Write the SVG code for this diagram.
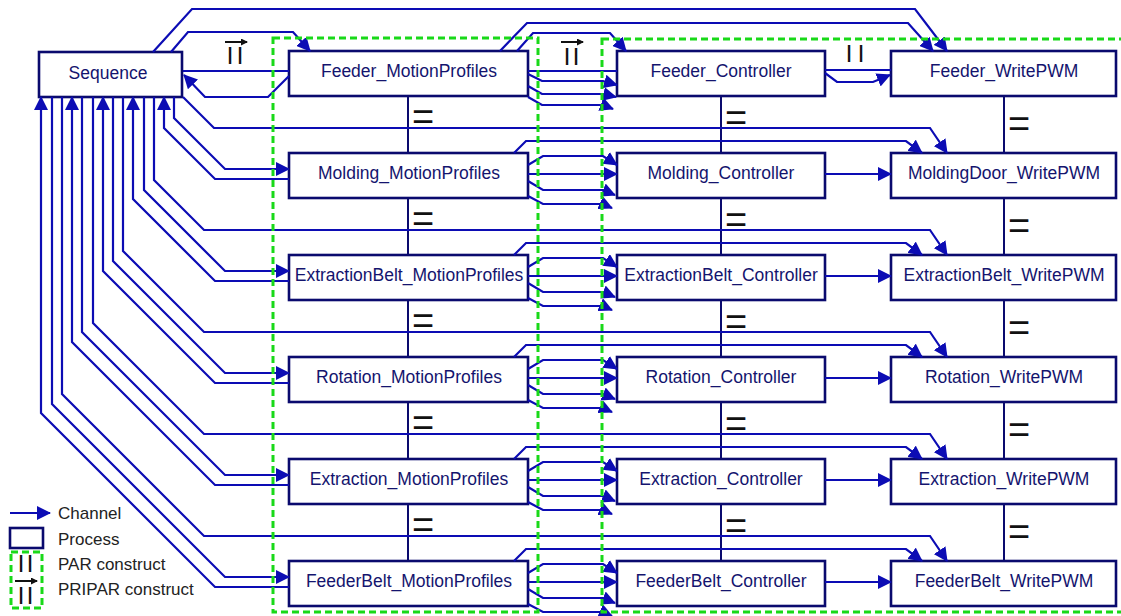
<svg xmlns="http://www.w3.org/2000/svg" width="1121" height="616" viewBox="0 0 1121 616">
<style>
.node rect{fill:#fff;stroke:#0a0a6e;stroke-width:2.6}
.node text{font-family:"Liberation Sans",Arial,sans-serif;font-size:17.5px;fill:#14146e;text-anchor:middle}
.ch{fill:none;stroke:#0c0cb4;stroke-width:2.2;marker-end:url(#ah)}
.ln{fill:none;stroke:#0c0cb4;stroke-width:2.2}
.seq{stroke:#0a0a6e;stroke-width:2}
.eq{font-family:"Liberation Sans",Arial,sans-serif;font-size:38px;fill:#111;text-anchor:middle}
.bar{font-family:"Liberation Sans",Arial,sans-serif;font-size:18px;font-weight:bold;fill:#111;text-anchor:middle}
.par{fill:none;stroke:#19d919;stroke-width:3;stroke-dasharray:7 4}
.leg{font-family:"Liberation Sans",Arial,sans-serif;font-size:17px;fill:#222}
.pa{stroke:#111;stroke-width:2;marker-end:url(#sa)}
</style>
<defs>
<marker id="ah" markerUnits="userSpaceOnUse" markerWidth="14" markerHeight="14" viewBox="0 0 14 14" refX="13" refY="7" orient="auto"><path d="M0,0 L14,7 L0,14 z" fill="#0c0cb4"/></marker>
<marker id="sa" markerUnits="userSpaceOnUse" markerWidth="7" markerHeight="7" viewBox="0 0 7 7" refX="6" refY="3.5" orient="auto"><path d="M0,0 L7,3.5 L0,7 z" fill="#111"/></marker>
</defs>

<g id="nodes">
<g id="Sequence" class="node"><rect x="39" y="52" width="143" height="45"/><text x="108" y="79">Sequence</text></g>

<g id="Feeder_MotionProfiles" class="node"><rect x="289" y="51" width="239" height="45"/><text x="409" y="77">Feeder_MotionProfiles</text></g>
<g id="Molding_MotionProfiles" class="node"><rect x="289" y="153" width="239" height="45"/><text x="409" y="179">Molding_MotionProfiles</text></g>
<g id="ExtractionBelt_MotionProfiles" class="node"><rect x="289" y="255" width="239" height="45"/><text x="409" y="281">ExtractionBelt_MotionProfiles</text></g>
<g id="Rotation_MotionProfiles" class="node"><rect x="289" y="357" width="239" height="45"/><text x="409" y="383">Rotation_MotionProfiles</text></g>
<g id="Extraction_MotionProfiles" class="node"><rect x="289" y="459" width="239" height="45"/><text x="409" y="485">Extraction_MotionProfiles</text></g>
<g id="FeederBelt_MotionProfiles" class="node"><rect x="289" y="561" width="239" height="45"/><text x="409" y="587">FeederBelt_MotionProfiles</text></g>

<g id="Feeder_Controller" class="node"><rect x="617" y="51" width="208" height="45"/><text x="721" y="77">Feeder_Controller</text></g>
<g id="Molding_Controller" class="node"><rect x="617" y="153" width="208" height="45"/><text x="721" y="179">Molding_Controller</text></g>
<g id="ExtractionBelt_Controller" class="node"><rect x="617" y="255" width="208" height="45"/><text x="721" y="281">ExtractionBelt_Controller</text></g>
<g id="Rotation_Controller" class="node"><rect x="617" y="357" width="208" height="45"/><text x="721" y="383">Rotation_Controller</text></g>
<g id="Extraction_Controller" class="node"><rect x="617" y="459" width="208" height="45"/><text x="721" y="485">Extraction_Controller</text></g>
<g id="FeederBelt_Controller" class="node"><rect x="617" y="561" width="208" height="45"/><text x="721" y="587">FeederBelt_Controller</text></g>

<g id="Feeder_WritePWM" class="node"><rect x="891" y="51" width="225" height="45"/><text x="1004" y="77">Feeder_WritePWM</text></g>
<g id="MoldingDoor_WritePWM" class="node"><rect x="891" y="153" width="225" height="45"/><text x="1004" y="179">MoldingDoor_WritePWM</text></g>
<g id="ExtractionBelt_WritePWM" class="node"><rect x="891" y="255" width="225" height="45"/><text x="1004" y="281">ExtractionBelt_WritePWM</text></g>
<g id="Rotation_WritePWM" class="node"><rect x="891" y="357" width="225" height="45"/><text x="1004" y="383">Rotation_WritePWM</text></g>
<g id="Extraction_WritePWM" class="node"><rect x="891" y="459" width="225" height="45"/><text x="1004" y="485">Extraction_WritePWM</text></g>
<g id="FeederBelt_WritePWM" class="node"><rect x="891" y="561" width="225" height="45"/><text x="1004" y="587">FeederBelt_WritePWM</text></g>
</g>

<g id="connectors">
<g class="seq">
<line x1="408" y1="97" x2="408" y2="152"/><line x1="408" y1="199" x2="408" y2="254"/><line x1="408" y1="301" x2="408" y2="356"/><line x1="408" y1="403" x2="408" y2="458"/><line x1="408" y1="505" x2="408" y2="560"/>
<line x1="721" y1="97" x2="721" y2="152"/><line x1="721" y1="199" x2="721" y2="254"/><line x1="721" y1="301" x2="721" y2="356"/><line x1="721" y1="403" x2="721" y2="458"/><line x1="721" y1="505" x2="721" y2="560"/>
<line x1="1004" y1="97" x2="1004" y2="152"/><line x1="1004" y1="199" x2="1004" y2="254"/><line x1="1004" y1="301" x2="1004" y2="356"/><line x1="1004" y1="403" x2="1004" y2="458"/><line x1="1004" y1="505" x2="1004" y2="560"/>
</g>
<g id="eq-labels">
<text class="eq" x="423" y="130">=</text><text class="eq" x="423" y="232">=</text><text class="eq" x="423" y="334">=</text><text class="eq" x="423" y="436">=</text><text class="eq" x="423" y="538">=</text>
<text class="eq" x="736" y="131">=</text><text class="eq" x="736" y="233">=</text><text class="eq" x="736" y="335">=</text><text class="eq" x="736" y="437">=</text><text class="eq" x="736" y="539">=</text>
<text class="eq" x="1019" y="137">=</text><text class="eq" x="1019" y="239">=</text><text class="eq" x="1019" y="341">=</text><text class="eq" x="1019" y="443">=</text><text class="eq" x="1019" y="545">=</text>
</g>

<path class="ch" d="M153,52 L192,9 L915,9 L947,51"/>
<path class="ch" d="M171,52 L188,32 L293,32 L310,51"/>
<path class="ln" d="M183,71 L289,71"/>
<path class="ch" d="M289,76 L268,97 L205,97 L184,75"/>
<path class="ch" d="M500,51 L527,23 L908,23 L933,51"/>
<path class="ch" d="M517,51 L533,33 L610,33 L626,51"/>
<path class="ln" d="M528,71 L617,71"/>
<path class="ch" d="M528,74 L542,81 L603,81 L617,85"/>
<path class="ch" d="M528,86 L542,94 L603,94 L616,97"/>
<path class="ch" d="M528,97 L542,105 L603,105 L613,109"/>
<path class="ln" d="M825,70 L891,70"/>
<path class="ch" d="M825,73 L837,82 L873,82 L890,75"/>

<path class="ch" d="M183,97 L214,128 L930,128 L947,153"/>
<path class="ch" d="M174,97 L174,118 L225,169 L289,169"/>
<path class="ch" d="M289,179 L215,179 L164,128 L164,97"/>
<path class="ch" d="M514,153 L526,141 L906,141 L922,153"/>
<path class="ch" d="M528,165 L543,156 L603,156 L617,165"/>
<path class="ch" d="M528,174 L617,174"/>
<path class="ch" d="M528,181 L543,190 L603,190 L615,195"/>
<path class="ch" d="M528,196 L543,204 L603,204 L612,208"/>
<path class="ch" d="M825,174 L891,174"/>

<path class="ch" d="M154,97 L154,180 L204,230 L930,230 L947,255"/>
<path class="ch" d="M144,97 L144,190 L225,271 L289,271"/>
<path class="ch" d="M289,281 L215,281 L133,199 L133,97"/>
<path class="ch" d="M514,255 L526,243 L906,243 L922,255"/>
<path class="ch" d="M528,267 L543,258 L603,258 L617,267"/>
<path class="ch" d="M528,276 L617,276"/>
<path class="ch" d="M528,283 L543,292 L603,292 L615,297"/>
<path class="ch" d="M528,298 L543,306 L603,306 L612,310"/>
<path class="ch" d="M825,276 L891,276"/>

<path class="ch" d="M123,97 L123,251 L204,332 L930,332 L947,357"/>
<path class="ch" d="M113,97 L113,261 L225,373 L289,373"/>
<path class="ch" d="M289,383 L215,383 L103,271 L103,97"/>
<path class="ch" d="M514,357 L526,345 L906,345 L922,357"/>
<path class="ch" d="M528,369 L543,360 L603,360 L617,369"/>
<path class="ch" d="M528,378 L617,378"/>
<path class="ch" d="M528,385 L543,394 L603,394 L615,399"/>
<path class="ch" d="M528,400 L543,408 L603,408 L612,412"/>
<path class="ch" d="M825,378 L891,378"/>

<path class="ch" d="M93,97 L93,323 L204,434 L930,434 L947,459"/>
<path class="ch" d="M82,97 L82,332 L225,475 L289,475"/>
<path class="ch" d="M289,485 L215,485 L72,342 L72,97"/>
<path class="ch" d="M514,459 L526,447 L906,447 L922,459"/>
<path class="ch" d="M528,471 L543,462 L603,462 L617,471"/>
<path class="ch" d="M528,480 L617,480"/>
<path class="ch" d="M528,487 L543,496 L603,496 L615,501"/>
<path class="ch" d="M528,502 L543,510 L603,510 L612,514"/>
<path class="ch" d="M825,480 L891,480"/>

<path class="ch" d="M62,97 L62,394 L204,536 L930,536 L947,561"/>
<path class="ch" d="M52,97 L52,404 L225,577 L289,577"/>
<path class="ch" d="M289,587 L215,587 L41,413 L41,97"/>
<path class="ch" d="M514,561 L526,549 L906,549 L922,561"/>
<path class="ch" d="M528,573 L543,564 L603,564 L617,573"/>
<path class="ch" d="M528,582 L617,582"/>
<path class="ch" d="M528,589 L543,598 L603,598 L615,603"/>
<path class="ch" d="M528,604 L543,612 L603,612 L612,616"/>
<path class="ch" d="M825,582 L891,582"/>
</g>

<g id="constructs">
<rect class="par" x="273" y="38" width="265" height="574"/>
<rect class="par" x="602" y="39" width="530" height="573"/>
<g id="pripar1"><line class="pa" x1="225" y1="42" x2="247" y2="42"/><text class="bar" x="230 240" y="60">||</text></g>
<g id="pripar2"><line class="pa" x1="561" y1="42" x2="583" y2="42"/><text class="bar" x="567 576" y="61">||</text></g>
<g id="par1"><text class="bar" x="849 861" y="58">||</text></g>
</g>

<g id="legend">
<line class="ch" x1="10" y1="513" x2="50" y2="513"/>
<text class="leg" x="58" y="519">Channel</text>
<rect x="10" y="528" width="33" height="20" fill="#fff" stroke="#0a0a6e" stroke-width="2.6"/>
<text class="leg" x="58" y="545">Process</text>
<rect class="par" x="11" y="552" width="31" height="56"/>
<text class="bar" x="21 30" y="568">||</text>
<text class="leg" x="58" y="570">PAR construct</text>
<line class="pa" x1="15" y1="581" x2="37" y2="581"/>
<text class="bar" x="21 30" y="600">||</text>
<text class="leg" x="58" y="595">PRIPAR construct</text>
</g>
</svg>
